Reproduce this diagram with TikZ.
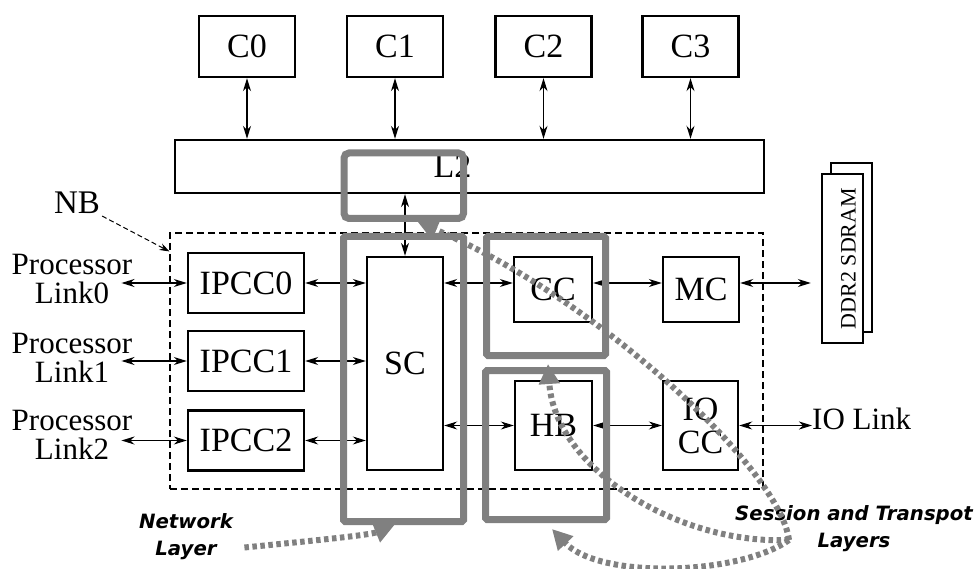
\documentclass[tikz,border=0pt]{standalone}
\usepackage{fontspec}
\setmainfont{Liberation Serif}
\newfontfamily\layerfont{DejaVu Sans Bold Oblique}
\usetikzlibrary{arrows.meta,positioning,calc}
\definecolor{laygray}{HTML}{808080}

\begin{document}
\begin{tikzpicture}[x=1pt,y=-1pt,
  unit/.style={draw,line width=2.4pt,fill=white,inner sep=0pt,align=center,
    font=\fontsize{34}{33}\selectfont},
  linklabel/.style={align=center,inner sep=0pt,font=\fontsize{31}{29}\selectfont},
  link/.style={{Stealth[length=13pt,width=8pt,inset=4pt]}-{Stealth[length=13pt,width=8pt,inset=4pt]},line width=1.2pt},
  layer/.style={draw=laygray,line width=7pt,rounded corners=1.5pt,inner sep=0pt},
  layertext/.style={align=center,font=\layerfont\fontsize{19.7}{27}\selectfont},
  flow/.style={draw=laygray,line width=6pt,dash pattern=on 4.5pt off 3.5pt,
    -{Triangle[length=20pt,width=20pt]}}
]
\useasboundingbox (0,0) rectangle (976,569);

\foreach \i/\x in {0/247,1/395,2/543.5,3/690.5}
  \node[unit,minimum width=96pt,minimum height=61pt] (C\i) at (\x,46.5) {C\i};
\node[unit,minimum width=589pt,minimum height=53pt,
  label={[xshift=-17pt,font=\fontsize{34}{34}\selectfont]center:L2}] (L2) at (469.5,166.5) {};
\foreach \i in {0,...,3}
  \draw[link] (C\i.south) -- (C\i.south |- L2.north);

\node[draw,dash pattern=on 7pt off 4pt,line width=1.1pt,inner sep=0pt,
  minimum width=593pt,minimum height=256pt] (nb) at (466.5,361) {};
\node[inner sep=2pt,font=\fontsize{33}{33}\selectfont] (NB) at (77,203) {NB};
\draw[dash pattern=on 5pt off 3pt,line width=1pt,-{Stealth[length=10pt,width=7pt]}]
  (NB.south east) -- ([yshift=-19pt]nb.north west);

\foreach \i/\y in {0/283,1/361,2/440.5}
  \node[unit,minimum width=116pt,minimum height=60pt] (IPCC\i) at (246,\y) {IPCC\i};
\foreach \i/\y in {0/279,1/358,2/435} {
  \node[linklabel] (PL\i) at (72,\y) {Processor\\Link\i};
  \draw[link] ([xshift=-11pt]PL\i.east |- IPCC\i) -- (IPCC\i.west);
}

\node[unit,minimum width=76pt,minimum height=213pt] (SC) at (405,363.5) {SC};
\node[unit,minimum width=78pt,minimum height=65pt] (CC) at (553,289.5) {CC};
\node[unit,minimum width=76pt,minimum height=65pt] (MC) at (701,289.5) {MC};
\node[unit,minimum width=77pt,minimum height=89pt] (HB) at (553.5,425.5) {HB};
\node[unit,minimum width=75pt,minimum height=89pt] (IOCC) at (700.5,425.5) {IO\\CC};
\node[unit,minimum width=41pt,minimum height=169pt] (DDRb) at (851.5,247.5) {};
\node[unit,minimum width=41pt,minimum height=169pt,
  label={[rotate=90,yshift=-6pt,font=\fontsize{22}{22}\selectfont]center:DDR2 SDRAM}] (DDR) at (842.5,258.5) {};
\node[anchor=west,inner sep=0pt,font=\fontsize{31}{31}\selectfont] (IOL) at (812,419) {IO Link};

\foreach \i in {0,1,2}
  \draw[link] (IPCC\i.east) -- (IPCC\i.east -| SC.west);
\draw[link] (L2.south -| SC) -- (SC.north);
\draw[link] (SC.east |- IPCC0) -- (CC.west |- IPCC0);
\draw[link] (CC.east |- IPCC0) -- (MC.west |- IPCC0);
\draw[link,shorten >=10pt] (MC.east |- IPCC0) -- (DDR.west |- IPCC0);
\draw[link] (SC.east |- HB) -- (HB.west);
\draw[link] (HB.east) -- (IOCC.west);
\draw[link] (IOCC.east) -- (IOL.west |- IOCC);

\node[layer,minimum width=120pt,minimum height=285pt] (netL) at (403.5,379) {};
\node[layer,minimum width=119pt,minimum height=119pt] (ccL) at (546,296) {};
\node[layer,minimum width=121pt,minimum height=149pt] (hbL) at (546,445) {};
\node[layer,rounded corners=5pt,minimum width=119.5pt,minimum height=65.5pt] (l2L) at (403.75,185.75) {};

\node[layertext] (netT) at (186,536.5) {Network\\Layer};
\node[layertext] (sesT) at (854,528.5) {Session and Transpot\\Layers};
\coordinate (fork) at (789,540);

\draw[flow] ([xshift=8pt,yshift=-11pt]netT.east) .. controls (320,540) and (370,535) .. ([xshift=-9pt]netL.south);
\draw[flow] (fork) .. controls (780,470) and (600,300) .. ([xshift=14pt]l2L.south);
\draw[flow] (fork) .. controls (680,545) and (555,470) .. ([xshift=2pt,yshift=-5pt]ccL.south);
\draw[flow] (fork) .. controls (740,575) and (600,580) .. ([xshift=6pt,yshift=-6pt]hbL.south);
\end{tikzpicture}
\end{document}
